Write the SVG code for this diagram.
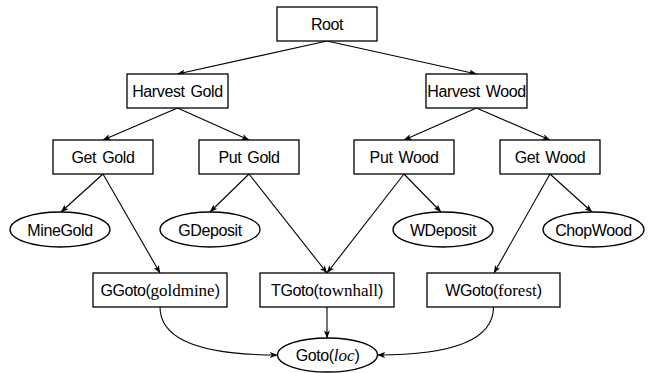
<svg xmlns="http://www.w3.org/2000/svg" width="652" height="373" viewBox="0 0 652 373">
<defs>
<marker id="arr" viewBox="0 0 8 6" refX="7.6" refY="3" markerWidth="8" markerHeight="6" markerUnits="userSpaceOnUse" orient="auto">
<path d="M0,0 L8,3 L0,6 L2,3 Z" fill="#000"/>
</marker>
<style>
.box{fill:#fff;stroke:#000;stroke-width:1.3}
.t{font-family:"Liberation Sans",Arial,sans-serif;font-size:16px;letter-spacing:-0.4px;word-spacing:2px;text-anchor:middle;fill:#000}
.s{font-family:"Liberation Serif","Times New Roman",serif;font-size:17px;letter-spacing:0}
.i{font-style:italic}
.e{fill:none;stroke:#000;stroke-width:1.1;marker-end:url(#arr)}
</style>
</defs>
<rect width="652" height="373" fill="#fff"/>
<g id="connectors">
<path class="e" d="M327,41 L177.5,74"/>
<path class="e" d="M327,41 L476.5,74"/>
<path class="e" d="M177.5,108 L103,140"/>
<path class="e" d="M177.5,108 L249,140"/>
<path class="e" d="M476.5,108 L404,140"/>
<path class="e" d="M476.5,108 L550,140"/>
<path class="e" d="M103,174 L61,212"/>
<path class="e" d="M103,174 L160,273"/>
<path class="e" d="M249,174 L210,212"/>
<path class="e" d="M249,174 L327,273"/>
<path class="e" d="M404,174 L327,273"/>
<path class="e" d="M404,174 L441,212"/>
<path class="e" d="M550,174 L494,273"/>
<path class="e" d="M550,174 L592,212"/>
<path class="e" d="M327,307 L327,338"/>
<path class="e" d="M160,307 C160,348 226,355 277.5,355"/>
<path class="e" d="M493.5,307 C493.5,348 428,355 377.5,355"/>
</g>
<g id="root"><rect class="box" x="277" y="7" width="100" height="34"/><text class="t" x="327" y="30">Root</text></g>
<g id="harvest-gold"><rect class="box" x="127" y="74" width="101" height="34"/><text class="t" x="177.5" y="97">Harvest Gold</text></g>
<g id="harvest-wood"><rect class="box" x="426" y="74" width="101" height="34"/><text class="t" x="476.5" y="97">Harvest Wood</text></g>
<g id="get-gold"><rect class="box" x="53" y="140" width="100" height="34"/><text class="t" x="103" y="163">Get Gold</text></g>
<g id="put-gold"><rect class="box" x="199" y="140" width="100" height="34"/><text class="t" x="249" y="163">Put Gold</text></g>
<g id="put-wood"><rect class="box" x="354" y="140" width="100" height="34"/><text class="t" x="404" y="163">Put Wood</text></g>
<g id="get-wood"><rect class="box" x="500" y="140" width="100" height="34"/><text class="t" x="550" y="163">Get Wood</text></g>
<g id="minegold"><ellipse class="box" cx="60" cy="229.5" rx="50" ry="17.5"/><text class="t" x="60" y="235.5">MineGold</text></g>
<g id="gdeposit"><ellipse class="box" cx="210" cy="229.5" rx="50" ry="17.5"/><text class="t" x="210" y="235.5">GDeposit</text></g>
<g id="wdeposit"><ellipse class="box" cx="443" cy="229.5" rx="50" ry="17.5"/><text class="t" x="443" y="235.5">WDeposit</text></g>
<g id="chopwood"><ellipse class="box" cx="593.5" cy="229.5" rx="50.5" ry="17.5"/><text class="t" x="593.5" y="235.5">ChopWood</text></g>
<g id="ggoto"><rect class="box" x="93" y="273" width="134" height="34"/><text class="t" x="160" y="296">GGoto(<tspan class="s">goldmine</tspan>)</text></g>
<g id="tgoto"><rect class="box" x="260" y="273" width="134" height="34"/><text class="t" x="327" y="296">TGoto(<tspan class="s">townhall</tspan>)</text></g>
<g id="wgoto"><rect class="box" x="427" y="273" width="133" height="34"/><text class="t" x="493.5" y="296">WGoto(<tspan class="s">forest</tspan>)</text></g>
<g id="goto"><ellipse class="box" cx="327.5" cy="355" rx="50" ry="17"/><text class="t" x="327.5" y="361">Goto(<tspan class="s i">loc</tspan>)</text></g>
</svg>
